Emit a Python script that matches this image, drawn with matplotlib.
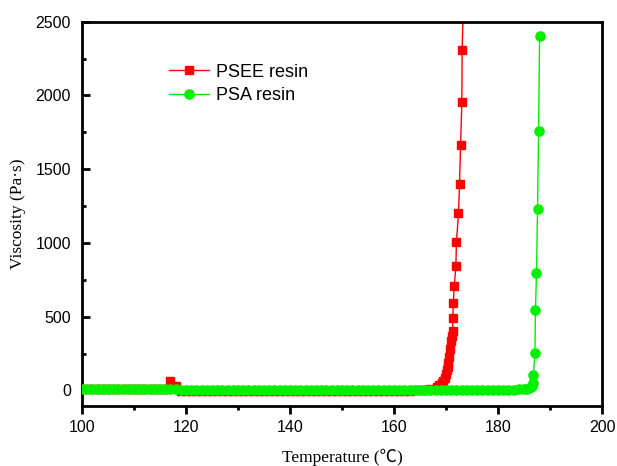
import numpy as np
import matplotlib

matplotlib.use("Agg")
import matplotlib.pyplot as plt
from matplotlib.ticker import MultipleLocator

matplotlib.rcParams.update({
    "font.family": "sans-serif",
    "font.sans-serif": ["Liberation Sans", "DejaVu Sans"],
    "axes.linewidth": 2.0,
})

# PSEE resin: flat baseline with a small blip near 117 C, then cures ~169-173 C
psee_temp = [100, 101, 102, 103, 104, 105, 106, 107, 108, 109, 110, 111, 112, 113,
             114, 115, 116, 117, 118, 119, 120, 121, 122, 123, 124, 125, 126, 127,
             128, 129, 130, 131, 132, 133, 134, 135, 136, 137, 138, 139, 140, 141,
             142, 143, 144, 145, 146, 147, 148, 149, 150, 151, 152, 153, 154, 155,
             156, 157, 158, 159, 160, 161, 162, 163, 164, 165, 166, 167,
             168.2, 168.7, 169.2, 169.5, 169.8, 170.0, 170.1, 170.3, 170.4, 170.6,
             170.8, 170.9, 171.1, 171.3, 171.3, 171.4, 171.6, 171.9, 172.0, 172.4,
             172.6, 172.8, 173.05, 173.1, 173.4]
psee_visc = [10, 10, 9, 10, 10, 9, 10, 10, 9, 10, 10, 9, 10, 10,
             9, 10, 12, 63, 30, -2, -3, -3, -4, -3, -3, -4, -3, -3,
             -4, -3, -3, -4, -3, -3, -4, -3, -3, -4, -3, -3, -4, -3,
             -3, -4, -3, -3, -4, -3, -3, -4, -3, -3, -4, -3, -3, -4,
             -3, -3, -4, -3, -3, -3, -2, -1, 0, 2, 4, 9,
             25, 35, 48, 62, 82, 110, 138, 160, 184, 229,
             279, 335, 370, 405, 491, 590, 708, 843, 1004, 1200,
             1399, 1664, 1955, 2308, 2700]

# PSA resin: flat baseline, cures ~186-188 C
psa_temp = [100, 101, 102, 103, 104, 105, 106, 107, 108, 109, 110, 111, 112, 113,
            114, 115, 116, 117, 118, 119, 120, 121, 122, 123, 124, 125, 126, 127,
            128, 129, 130, 131, 132, 133, 134, 135, 136, 137, 138, 139, 140, 141,
            142, 143, 144, 145, 146, 147, 148, 149, 150, 151, 152, 153, 154, 155,
            156, 157, 158, 159, 160, 161, 162, 163, 164, 165, 166, 167, 168, 169,
            170, 171, 172, 173, 174, 175, 176, 177, 178, 179, 180, 181, 182, 183,
            184, 185, 185.5, 186.0, 186.3, 186.5, 186.7, 186.8, 187.1, 187.2,
            187.4, 187.6, 187.8, 188.0]
psa_visc = [10, 10, 9, 10, 10, 9, 10, 10, 9, 10, 10, 9, 10, 10,
            9, 10, 10, 9, 8, 5, 4, 4, 3, 4, 4, 3, 4, 4,
            3, 4, 4, 3, 4, 4, 3, 4, 4, 3, 4, 4, 3, 4, 4,
            3, 4, 4, 3, 4, 4, 3, 4, 4, 3, 4, 4, 3, 4,
            4, 3, 4, 4, 3, 4, 4, 3, 4, 4, 3, 4, 4,
            3, 4, 4, 3, 4, 4, 3, 4, 4, 3, 4, 4, 5, 6,
            7, 9, 12, 18, 24, 32, 48, 104, 251, 545,
            794, 1228, 1759, 2403]

RED = "#ff0000"
GREEN = "#00f000"

fig = plt.figure(figsize=(6.17, 4.66), dpi=100)
ax = fig.add_axes([0.1329, 0.1288, 0.8428, 0.8246])

ax.plot(psee_temp, psee_visc, color=RED, lw=1.0, marker="s", ms=5.2,
        mec=RED, mfc=RED, label="PSEE resin", zorder=2)
ax.plot(psa_temp, psa_visc, color=GREEN, lw=1.0, marker="o", ms=6.6,
        mec=GREEN, mfc=GREEN, label="PSA resin", zorder=3)

ax.set_xlim(100, 200)
ax.set_ylim(-105, 2500)
ax.xaxis.set_major_locator(MultipleLocator(20))
ax.xaxis.set_minor_locator(MultipleLocator(10))
ax.yaxis.set_major_locator(MultipleLocator(500))
ax.yaxis.set_minor_locator(MultipleLocator(250))

ax.tick_params(axis="x", which="major", direction="out", length=6, width=2,
               labelsize=11.5, pad=4)
ax.tick_params(axis="x", which="minor", direction="out", length=3, width=2)
ax.tick_params(axis="y", which="major", direction="in", length=6, width=2,
               labelsize=11.5, pad=8)
ax.tick_params(axis="y", which="minor", direction="in", length=3, width=2)

serif = ["Liberation Serif", "Noto Sans CJK SC", "DejaVu Serif"]
ax.set_xlabel("Temperature (℃)", family=serif, fontsize=12.5, labelpad=10)
ax.set_ylabel("Viscosity (Pa·s)", family=serif, fontsize=12.5, labelpad=7)

ax.legend(loc="upper left", bbox_to_anchor=(0.153, 0.91), frameon=False,
          fontsize=13, handlelength=2.2, handletextpad=0.4, labelspacing=0.35,
          borderaxespad=0)

fig.savefig("out.png", dpi=100)
